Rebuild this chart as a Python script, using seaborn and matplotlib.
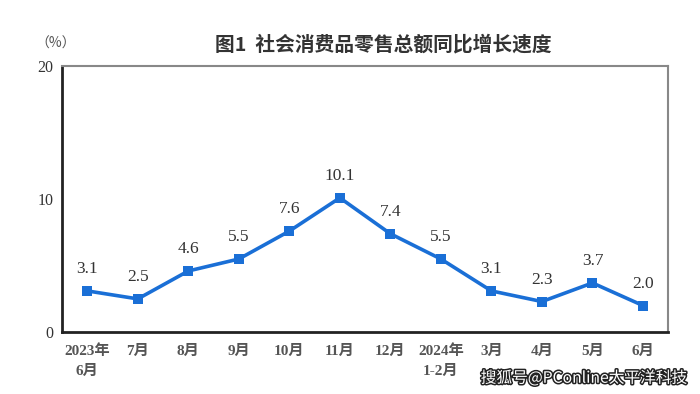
import numpy as np
import pandas as pd
import matplotlib.pyplot as plt
import matplotlib.patheffects as pe
import seaborn as sns

# data
months = ["2023年\n6月", "7月", "8月", "9月", "10月", "11月", "12月",
          "2024年\n1-2月", "3月", "4月", "5月", "6月"]
growth = [3.1, 2.5, 4.6, 5.5, 7.6, 10.1, 7.4, 5.5, 3.1, 2.3, 3.7, 2.0]

sns.set_style("white")
plt.rcParams['font.family'] = ['Liberation Serif', 'Noto Sans CJK SC']

df = pd.DataFrame({"pos": np.arange(len(months)), "growth": growth})

fig = plt.figure(figsize=(7, 3.94), dpi=100)
ax = fig.add_axes([0.0886, 0.157, 0.866, 0.675])

line_color = "#1a6fd6"
sns.lineplot(
    data=df, x="pos", y="growth", ax=ax,
    color=line_color, linewidth=2.6,
    marker="s", markersize=7, markeredgewidth=0
)

for x, y in zip(df["pos"], df["growth"]):
    ax.annotate(f"{y:.1f}", (x, y), xytext=(0, 10), textcoords="offset points",
                ha="center", va="bottom", fontsize=12.5, color="#333333",
                family=['Liberation Serif'])

ax.set_xlim(-0.5, len(months) - 0.5)
ax.set_ylim(0, 20)
ax.set_yticks([0, 10, 20])
ax.set_yticklabels(["0", "10", "20"], fontsize=11.5, color="#333333")
ax.set_xticks(df["pos"])
ax.set_xticklabels(months, fontsize=11, color="#555555", linespacing=1.6,
                   fontweight="bold")
ax.set_xticks(np.arange(0.5, len(months) - 1, 1), minor=True)
ax.tick_params(axis="x", which="major", length=0, pad=9)
ax.tick_params(axis="x", which="minor", direction="in", length=6, width=1.2,
               color="#222222")
ax.tick_params(axis="y", direction="in", length=5, width=1.2, color="#222222",
               pad=6)
ax.set_xlabel("")
ax.set_ylabel("")

for side in ["left", "bottom"]:
    ax.spines[side].set_color("#222222")
    ax.spines[side].set_linewidth(2)
for side in ["top", "right"]:
    ax.spines[side].set_color("#888888")
    ax.spines[side].set_linewidth(1.5)

fig.text(0.05, 0.89, "（%）", fontsize=10, color="#555555",
         family=['Noto Sans CJK SC'], va="center")
fig.text(0.547, 0.888, "图1  社会消费品零售总额同比增长速度", fontsize=14.2,
         fontweight="bold", color="#333333", ha="center", va="center",
         family=['Noto Sans CJK SC'])

wm = fig.text(0.983, 0.04, "搜狐号@PConline太平洋科技", fontsize=11.3,
              color="white", ha="right", va="center",
              family=['Noto Sans CJK SC'])
wm.set_path_effects([pe.withStroke(linewidth=2.2, foreground="#222222")])

plt.savefig("out.png", dpi=100)
